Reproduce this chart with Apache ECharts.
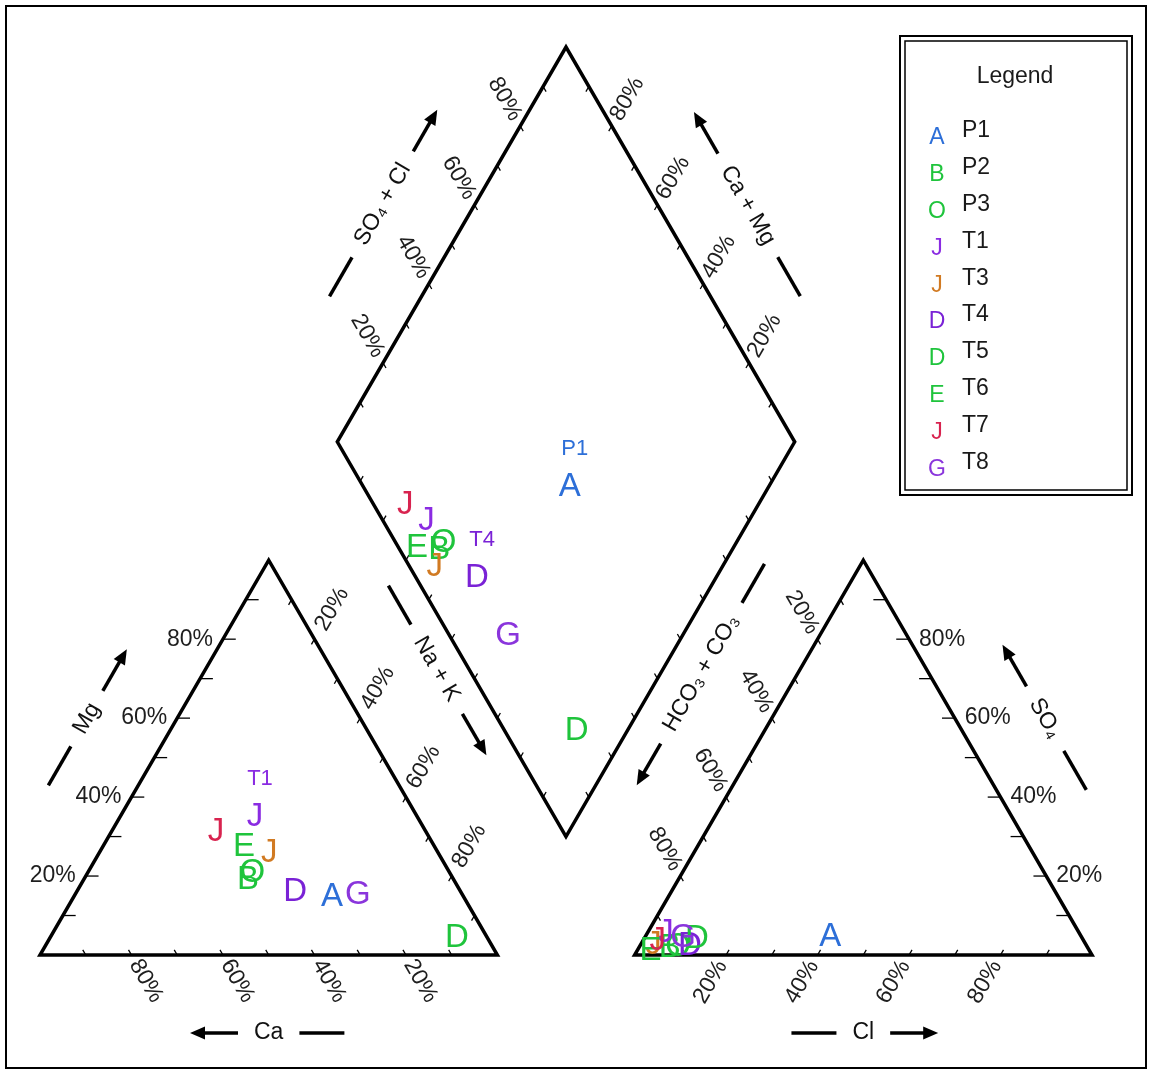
<!DOCTYPE html>
<html>
<head>
<meta charset="utf-8">
<title>Piper diagram</title>
<script src="https://cdn.jsdelivr.net/npm/echarts@6/dist/echarts.min.js"></script>
<style>
html, body { margin: 0; padding: 0; background: #fff; }
#piper { width: 1153px; height: 1071px; }
</style>
</head>
<body>
<div id="piper"></div>
<script>
// samples, their plotting letter and colour
const samples = ['P1', 'P2', 'P3', 'T1', 'T3', 'T4', 'T5', 'T6', 'T7', 'T8'];
const symbols = ['A', 'B', 'O', 'J', 'J', 'D', 'D', 'E', 'J', 'G'];
const colors = ['#2d6fd8', '#1fc43c', '#1fc43c', '#8a2be2', '#d17a22', '#7a22d6', '#1fc43c', '#1fc43c', '#d8234f', '#8a35dc'];

// cations, % of meq
const ca  = [28.8, 45.0, 43.2, 35.5, 37.0, 36.2,  6.7, 41.7, 45.9, 22.9];
const mg  = [14.7, 19.0, 20.8, 35.0, 25.8, 16.0,  4.3, 27.4, 31.2, 15.2];
const naK = [56.5, 36.0, 36.0, 29.5, 37.2, 47.8, 89.0, 30.9, 22.9, 61.9];
// anions, % of meq
const hco3 = [54.9, 91.4, 89.5, 90.5, 94.6, 86.7, 84.3, 96.0, 93.2, 87.2];
const so4  = [ 4.6,  1.8,  2.0,  5.5,  2.5,  2.4,  4.2,  1.0,  3.5,  4.4];
const cl   = [40.5,  6.8,  8.5,  4.0,  2.9, 10.9, 11.5,  3.0,  3.3,  8.4];

const tickValues = [20, 40, 60, 80];
const tickLabels = ['20%', '40%', '60%', '80%'];
// samples whose name is written above the mark
const namedInCations = ['T1'];
const namedInDiamond = ['P1', 'T4'];

const FONT = '"Liberation Sans", Arial, sans-serif';
const H = Math.sqrt(3) / 2;
const GAP = 30;            // space between the two triangles
const RX = 100 + GAP;      // left corner of anion triangle
const CX = 100 + GAP / 2;  // diamond centre line
const DY = GAP * H;        // diamond bottom

// ternary -> diagram units
function cationXY(i) { return [naK[i] + mg[i] / 2, mg[i] * H]; }
function anionXY(i) { return [RX + cl[i] + so4[i] / 2, so4[i] * H]; }
function diamondXY(i) {
  const c = (ca[i] + mg[i]) / 100, s = (so4[i] + cl[i]) / 100;
  return [CX + 50 * (s - c), DY + 100 * H * (c + s)];
}

const outlines = [
  [[0, 0], [100, 0], [50, 100 * H]],
  [[RX, 0], [RX + 100, 0], [RX + 50, 100 * H]],
  [[CX, DY], [CX - 50, DY + 100 * H], [CX, DY + 200 * H], [CX + 50, DY + 100 * H]]
];

// edges: point at v %, tick direction into the field, tick length, label style
const edges = [
  { pt: v => [v / 2, v * H], dir: [1, 0], len: 2.8, lab: { rot: 0, align: 'right', off: [-10, 0] } },                 // Mg
  { pt: v => [100 - v, 0], dir: [-0.5, H], len: 1.3, lab: { rot: -60, align: 'left', off: [3, 6] } },                 // Ca
  { pt: v => [v + (100 - v) / 2, (100 - v) * H], dir: [-0.5, -H], len: 1.3, lab: { rot: 60, align: 'left', off: [6, -10] } }, // Na+K
  { pt: v => [RX + 100 - v / 2, v * H], dir: [-1, 0], len: 2.8, lab: { rot: 0, align: 'left', off: [10, 0] } },       // SO4
  { pt: v => [RX + v, 0], dir: [0.5, H], len: 1.3, lab: { rot: 60, align: 'right', off: [-4, 7] } },                  // Cl
  { pt: v => [RX + (100 - v) / 2, (100 - v) * H], dir: [0.5, -H], len: 1.3, lab: { rot: -60, align: 'right', off: [-4, -7] } }, // HCO3
  { pt: v => [CX - 50 + v / 2, DY + 100 * H + v * H], dir: [0.5, -H], len: 1.3, lab: { rot: -60, align: 'right', off: [-4, -7] } }, // SO4+Cl
  { pt: v => [CX + 50 - v / 2, DY + 100 * H + v * H], dir: [-0.5, -H], len: 1.3, lab: { rot: 60, align: 'left', off: [4, -7] } },   // Ca+Mg
  { pt: v => [CX - v / 2, DY + v * H], dir: [0.5, H], len: 1.3 },
  { pt: v => [CX + v / 2, DY + v * H], dir: [-0.5, H], len: 1.3 }
];

const titles = [
  { at: [50, 0], off: [0, 78], rot: 0, text: 'Ca', arrow: -1 },
  { at: [25, 50 * H], off: [-67.5, -39], rot: 60, text: 'Mg', arrow: 1 },
  { at: [RX + 50, 0], off: [0, 78], rot: 0, text: 'Cl', arrow: 1 },
  { at: [RX + 75, 50 * H], off: [67.5, -39], rot: -60, text: 'SO₄', arrow: -1 },
  { at: [CX - 25, DY + 150 * H], off: [-69, -40], rot: 60, text: 'SO₄ + Cl', arrow: 1 },
  { at: [CX + 25, DY + 150 * H], off: [67.5, -39], rot: -60, text: 'Ca + Mg', arrow: -1 },
  { at: [CX - 25, DY + 50 * H], off: [-15, 30], rot: -60, text: 'Na + K', arrow: 1 },
  { at: [CX + 25, DY + 50 * H], off: [21, 34], rot: 60, text: 'HCO₃ + CO₃', arrow: -1 }
];

const ctx = document.createElement('canvas').getContext('2d');
ctx.font = '23px ' + FONT;

const tickData = [], tickLabelData = [];
edges.forEach((e, ei) => {
  for (let v = 10; v <= 90; v += 10) {
    const p = e.pt(v);
    tickData.push([p[0], p[1], p[0] + e.dir[0] * e.len, p[1] + e.dir[1] * e.len]);
  }
  if (e.lab) tickValues.forEach((v, k) => {
    const p = e.pt(v);
    tickLabelData.push([p[0], p[1], k, ei]);
  });
});

const markData = [];
samples.forEach((s, i) => {
  markData.push(cationXY(i).concat([i, namedInCations.includes(s) ? 1 : 0]));
  markData.push(anionXY(i).concat([i, 0]));
  markData.push(diamondXY(i).concat([i, namedInDiamond.includes(s) ? 1 : 0]));
});

const legendItems = [];
samples.forEach((s, i) => {
  legendItems.push({ type: 'text', x: 937, y: 138 + i * 36.8,
    style: { text: symbols[i], fill: colors[i], fontSize: 23, fontFamily: FONT, align: 'center', verticalAlign: 'middle' } });
  legendItems.push({ type: 'text', x: 962, y: 131 + i * 36.8,
    style: { text: s, fill: '#1a1a1a', fontSize: 23, fontFamily: FONT, align: 'left', verticalAlign: 'middle' } });
});

const chart = echarts.init(document.getElementById('piper'));
chart.setOption({
  animation: false,
  grid: { left: 40, right: 61, top: 47, bottom: 116, containLabel: false, outerBoundsMode: 'none' },
  xAxis: { type: 'value', min: 0, max: 230, show: false },
  yAxis: { type: 'value', min: 0, max: 230 * H, show: false },
  graphic: [
    { type: 'rect', shape: { x: 6, y: 6, width: 1140, height: 1062 }, style: { fill: 'none', stroke: '#000', lineWidth: 2 } },
    { type: 'rect', shape: { x: 900, y: 36, width: 232, height: 459 }, style: { fill: '#fff', stroke: '#000', lineWidth: 2 } },
    { type: 'rect', shape: { x: 905, y: 41, width: 222, height: 449 }, style: { fill: 'none', stroke: '#000', lineWidth: 1.5 } },
    { type: 'text', x: 1015, y: 77, style: { text: 'Legend', fill: '#1a1a1a', fontSize: 23, fontFamily: FONT, align: 'center', verticalAlign: 'middle' } }
  ].concat(legendItems),
  series: [
    {
      name: 'frame', type: 'custom', coordinateSystem: 'cartesian2d', silent: true,
      data: outlines.map((o, i) => [i]),
      renderItem: (params, api) => ({
        type: 'polygon',
        shape: { points: outlines[api.value(0)].map(p => api.coord(p)) },
        style: { fill: 'none', stroke: '#000', lineWidth: 3.5, lineJoin: 'miter' }
      })
    },
    {
      name: 'ticks', type: 'custom', coordinateSystem: 'cartesian2d', silent: true,
      data: tickData,
      renderItem: (params, api) => {
        const a = api.coord([api.value(0), api.value(1)]);
        const b = api.coord([api.value(2), api.value(3)]);
        return { type: 'line', shape: { x1: a[0], y1: a[1], x2: b[0], y2: b[1] }, style: { stroke: '#000', lineWidth: 1.3 } };
      }
    },
    {
      name: 'tickLabels', type: 'custom', coordinateSystem: 'cartesian2d', silent: true,
      data: tickLabelData,
      renderItem: (params, api) => {
        const p = api.coord([api.value(0), api.value(1)]);
        const lab = edges[api.value(3)].lab;
        return {
          type: 'text', x: p[0] + lab.off[0], y: p[1] + lab.off[1], rotation: lab.rot * Math.PI / 180,
          style: { text: tickLabels[api.value(2)], fill: '#1e1e1e', fontSize: 23, fontFamily: FONT, align: lab.align, verticalAlign: 'middle' }
        };
      }
    },
    {
      name: 'titles', type: 'custom', coordinateSystem: 'cartesian2d', silent: true,
      data: titles.map((t, i) => [t.at[0], t.at[1], i]),
      renderItem: (params, api) => {
        const t = titles[api.value(2)];
        const p = api.coord([api.value(0), api.value(1)]);
        const s = ctx.measureText(t.text).width / 2 + 16;
        const a = t.arrow;
        return {
          type: 'group', x: p[0] + t.off[0], y: p[1] + t.off[1], rotation: t.rot * Math.PI / 180,
          children: [
            { type: 'text', x: 0, y: 0, style: { text: t.text, fill: '#111', fontSize: 23, fontFamily: FONT, align: 'center', verticalAlign: 'middle' } },
            { type: 'line', shape: { x1: -a * s, y1: 0, x2: -a * (s + 45), y2: 0 }, style: { stroke: '#000', lineWidth: 3.5 } },
            { type: 'line', shape: { x1: a * s, y1: 0, x2: a * (s + 36), y2: 0 }, style: { stroke: '#000', lineWidth: 3.5 } },
            { type: 'polygon', shape: { points: [[a * (s + 48), 0], [a * (s + 33), -6.5], [a * (s + 33), 6.5]] }, style: { fill: '#000' } }
          ]
        };
      }
    },
    {
      name: 'samples', type: 'custom', coordinateSystem: 'cartesian2d', silent: true,
      data: markData,
      renderItem: (params, api) => {
        const p = api.coord([api.value(0), api.value(1)]);
        const i = api.value(2);
        const children = [{ type: 'text', x: p[0], y: p[1],
          style: { text: symbols[i], fill: colors[i], fontSize: 33, fontFamily: FONT, align: 'center', verticalAlign: 'middle' } }];
        if (api.value(3)) children.push({ type: 'text', x: p[0] + 5, y: p[1] - 38,
          style: { text: samples[i], fill: colors[i], fontSize: 22, fontFamily: FONT, align: 'center', verticalAlign: 'middle' } });
        return { type: 'group', children };
      }
    }
  ]
});
</script>
</body>
</html>
